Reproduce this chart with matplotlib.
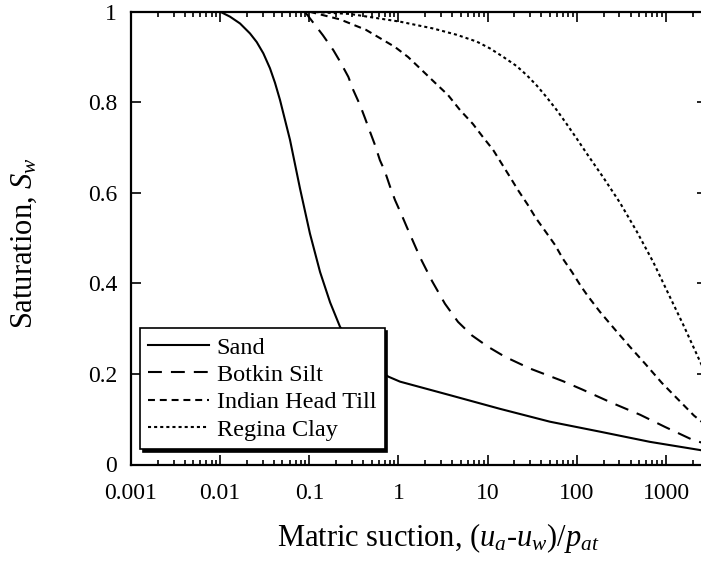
import matplotlib
matplotlib.use('Agg')
import matplotlib.pyplot as plt
from matplotlib.ticker import FixedLocator, LogLocator, NullFormatter

# Soil-water characteristic curves, saturation vs normalised matric suction
sand_suction = [0.008, 0.01, 0.0129, 0.0167, 0.0216, 0.0257, 0.0305, 0.0362, 0.0412, 0.0469,
                0.0607, 0.0785, 0.1016, 0.132, 0.171, 0.221, 0.37, 0.77, 1.04, 3.8, 13.7, 50,
                182, 661, 2400, 2900]
sand_sat = [1.0, 1.0, 0.989, 0.974, 0.952, 0.933, 0.908, 0.875, 0.843, 0.805,
            0.717, 0.61, 0.51, 0.425, 0.358, 0.304, 0.24, 0.194, 0.183, 0.153, 0.123, 0.0945,
            0.0725, 0.050, 0.032, 0.029]

silt_suction = [0.089, 0.142, 0.186, 0.221, 0.274, 0.311, 0.37, 0.421, 0.479, 0.544, 0.619,
                0.705, 0.803, 0.914, 1.086, 1.236, 1.74, 2.38, 3.32, 4.65, 6.67, 10.1, 15.6,
                29.8, 70, 117, 248, 511, 975, 2009, 2884]
silt_sat = [1.0, 0.948, 0.915, 0.890, 0.856, 0.827, 0.794, 0.765, 0.735, 0.706, 0.672,
            0.647, 0.614, 0.584, 0.551, 0.525, 0.458, 0.405, 0.355, 0.315, 0.285, 0.26, 0.238,
            0.212, 0.184, 0.165, 0.136, 0.11, 0.083, 0.054, 0.045]

till_suction = [0.10, 0.221, 0.431, 0.914, 1.28, 1.74, 2.57, 3.59, 4.89, 6.84, 8.86, 11.5,
                14.1, 17.8, 21.9, 28.3, 34.8, 44, 56.9, 70, 88.3, 111, 133, 182, 268, 394,
                581, 901, 1362, 2061, 2884]
till_sat = [1.0, 0.983, 0.96, 0.922, 0.90, 0.875, 0.843, 0.816, 0.783, 0.752, 0.723, 0.695,
            0.667, 0.635, 0.606, 0.573, 0.544, 0.516, 0.485, 0.454, 0.425, 0.394, 0.372, 0.337,
            0.298, 0.26, 0.223, 0.18, 0.144, 0.108, 0.085]

clay_suction = [0.10, 0.286, 1.04, 2.44, 4.50, 7.54, 10.6, 15.0, 21.1, 27.4, 35.5, 45.9,
                59.4, 76.9, 99.6, 129, 198, 305, 469, 720, 1018, 1550, 2404, 2884]
clay_sat = [1.0, 0.995, 0.978, 0.963, 0.949, 0.934, 0.919, 0.90, 0.880, 0.86, 0.837, 0.811,
            0.783, 0.752, 0.72, 0.687, 0.634, 0.578, 0.515, 0.447, 0.385, 0.31, 0.228, 0.195]

labels = ['Sand', 'Botkin Silt', 'Indian Head Till', 'Regina Clay']
x_ticks = [0.001, 0.01, 0.1, 1, 10, 100, 1000]
x_tick_labels = ['0.001', '0.01', '0.1', '1', '10', '100', '1000']
y_ticks = [0, 0.2, 0.4, 0.6, 0.8, 1.0]
y_tick_labels = ['0', '0.2', '0.4', '0.6', '0.8', '1']

plt.rcParams['font.family'] = ['Liberation Serif', 'DejaVu Serif']
plt.rcParams['mathtext.fontset'] = 'custom'
plt.rcParams['mathtext.rm'] = 'Liberation Serif'
plt.rcParams['mathtext.it'] = 'Liberation Serif:italic'
plt.rcParams['lines.scale_dashes'] = False

fig = plt.figure(figsize=(7.01, 5.67), dpi=100)
ax = fig.add_axes([131 / 701, 102.5 / 567, 576 / 701, 452.8 / 567])

lw = 1.5
ax.plot(sand_suction, sand_sat, color='black', lw=lw, linestyle='-', label=labels[0])
ax.plot(silt_suction, silt_sat, color='black', lw=lw, linestyle=(0, (10, 6.5)), label=labels[1])
ax.plot(till_suction, till_sat, color='black', lw=lw, linestyle=(0, (5, 3.5)), label=labels[2])
ax.plot(clay_suction, clay_sat, color='black', lw=lw, linestyle=(0, (2.2, 2.2)), label=labels[3])

ax.set_xscale('log')
ax.set_xlim(0.001, 2884)
ax.set_ylim(0, 1)

ax.xaxis.set_major_locator(FixedLocator(x_ticks))
ax.set_xticklabels(x_tick_labels)
ax.xaxis.set_minor_locator(LogLocator(base=10, subs=range(2, 10), numticks=20))
ax.xaxis.set_minor_formatter(NullFormatter())
ax.set_yticks(y_ticks)
ax.set_yticklabels(y_tick_labels)

ax.tick_params(which='both', direction='in', top=True, right=True, width=1.2, labelsize=17)
ax.tick_params(which='major', length=7.2)
ax.tick_params(which='minor', length=3.6)
ax.tick_params(axis='x', pad=13)
ax.tick_params(axis='y', pad=10)
for sp in ax.spines.values():
    sp.set_linewidth(1.6)

ax.set_xlabel('Matric suction, ($u_a$-$u_w$)/$p_{at}$', fontsize=22)
ax.xaxis.set_label_coords(0.533, -0.125)
ax.set_ylabel('Saturation, $S_w$', fontsize=22)
ax.yaxis.set_label_coords(-0.159, 0.49)

leg = ax.legend(loc='lower left', bbox_to_anchor=(0.0156, 0.034), borderaxespad=0,
                fontsize=17.5, frameon=True, fancybox=False, framealpha=1,
                edgecolor='black', handlelength=2.5, handletextpad=0.3,
                borderpad=0.35, labelspacing=0.22,
                shadow={'color': 'black', 'alpha': 1})
leg.get_frame().set_linewidth(1.2)

fig.savefig('out.png', dpi=100)
